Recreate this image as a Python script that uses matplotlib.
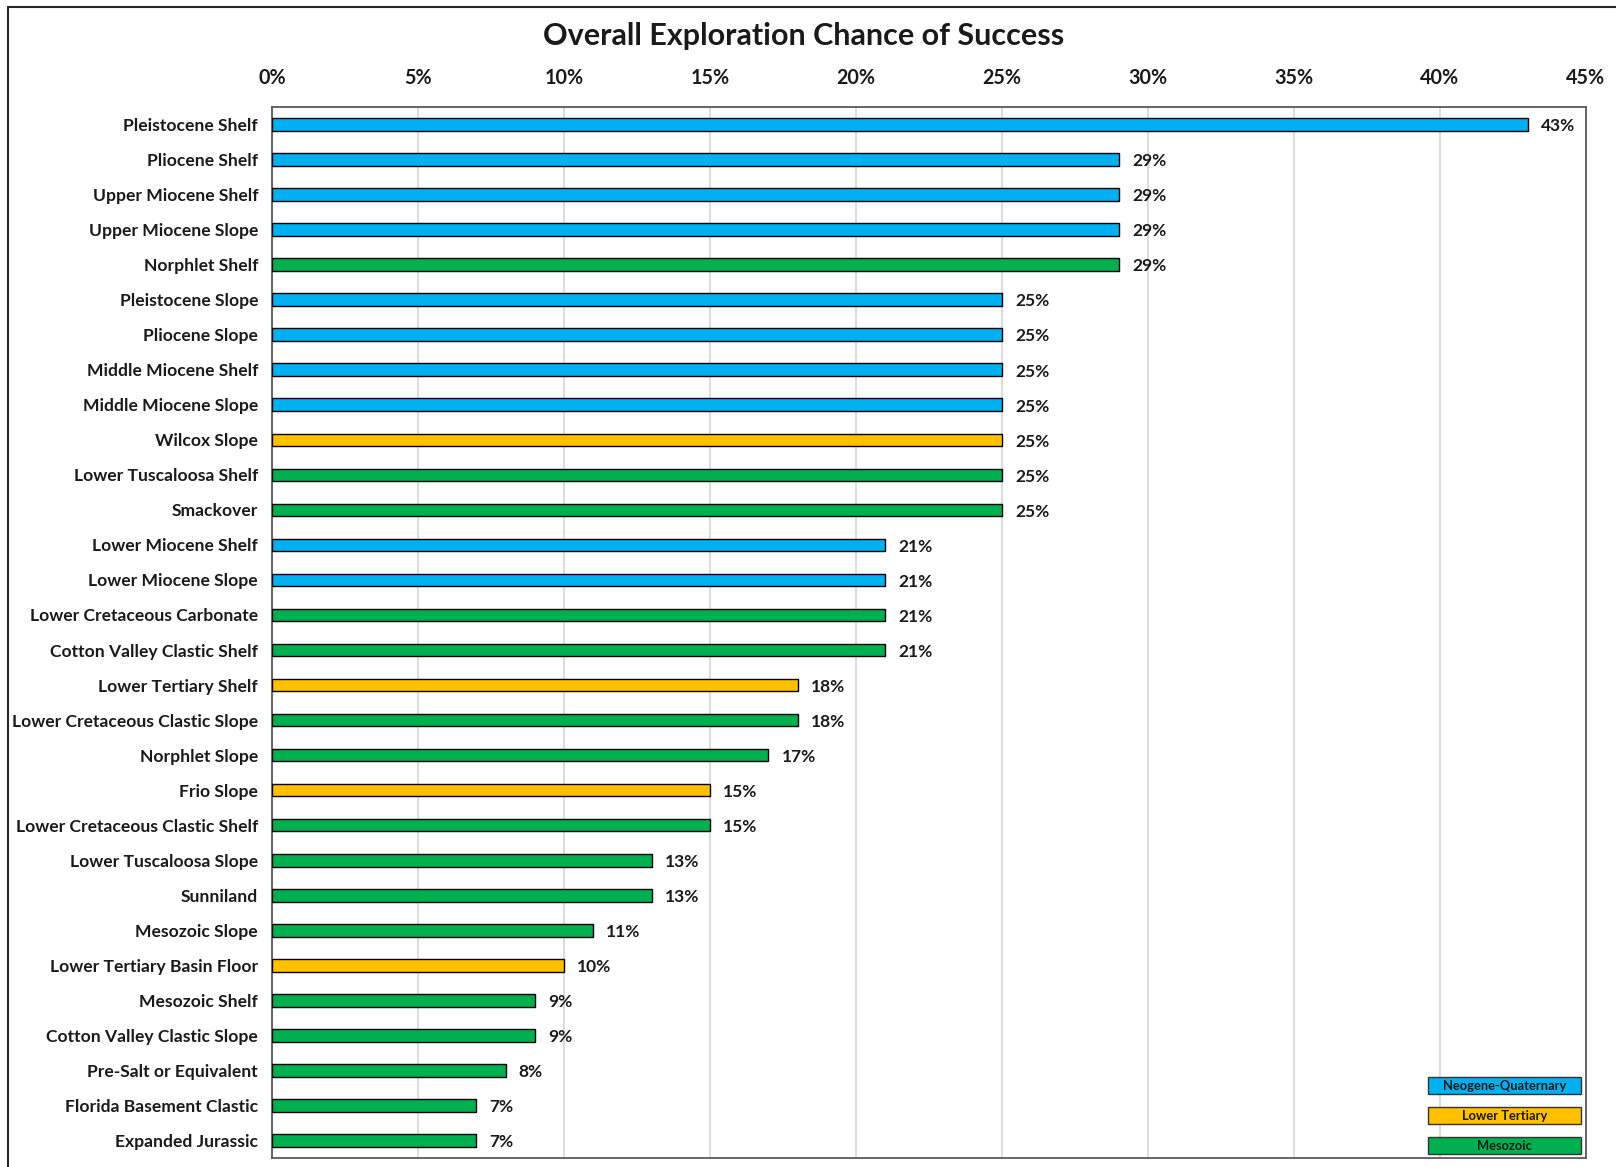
import matplotlib.pyplot as plt
from matplotlib.patches import Rectangle

plt.rcParams['font.family'] = ['Lato', 'DejaVu Sans']

plays = ["Pleistocene Shelf", "Pliocene Shelf", "Upper Miocene Shelf", "Upper Miocene Slope",
         "Norphlet Shelf", "Pleistocene Slope", "Pliocene Slope", "Middle Miocene Shelf",
         "Middle Miocene Slope", "Wilcox Slope", "Lower Tuscaloosa Shelf", "Smackover",
         "Lower Miocene Shelf", "Lower Miocene Slope", "Lower Cretaceous Carbonate",
         "Cotton Valley Clastic Shelf", "Lower Tertiary Shelf", "Lower Cretaceous Clastic Slope",
         "Norphlet Slope", "Frio Slope", "Lower Cretaceous Clastic Shelf", "Lower Tuscaloosa Slope",
         "Sunniland", "Mesozoic Slope", "Lower Tertiary Basin Floor", "Mesozoic Shelf",
         "Cotton Valley Clastic Slope", "Pre-Salt or Equivalent", "Florida Basement Clastic",
         "Expanded Jurassic"]
cos = [43, 29, 29, 29, 29, 25, 25, 25, 25, 25, 25, 25, 21, 21, 21, 21, 18, 18, 17, 15,
       15, 13, 13, 11, 10, 9, 9, 8, 7, 7]
groups = ["N", "N", "N", "N", "M", "N", "N", "N", "N", "L", "M", "M", "N", "N", "M", "M",
          "L", "M", "M", "L", "M", "M", "M", "M", "L", "M", "M", "M", "M", "M"]
group_names = ["Neogene-Quaternary", "Lower Tertiary", "Mesozoic"]
ticks = [0, 5, 10, 15, 20, 25, 30, 35, 40, 45]

colors = {"N": "#00B0F0", "L": "#FFC000", "M": "#00B050"}
legend_colors = ["#00B0F0", "#FFC000", "#00B050"]

W, H = 1616, 1167
fig = plt.figure(figsize=(W / 100, H / 100), dpi=100)
# outer chart frame
fig.patches.append(Rectangle((8 / W, -0.05), 1.2, 1 - 7 / H + 0.05, transform=fig.transFigure,
                             fill=False, edgecolor='#262626', linewidth=1.5))

ax = fig.add_axes([272 / W, 1 - 1158 / H, (1586 - 272) / W, (1158 - 107) / H])
ypos = list(range(len(plays)))
ax.barh(ypos, cos, height=0.36, color=[colors[g] for g in groups],
        edgecolor='black', linewidth=1.0, zorder=3)
for y, v in zip(ypos, cos):
    ax.text(v + 0.45, y + 0.05, f"{v}%", va='center', ha='left', fontsize=12.5,
            fontweight='bold', color='#1a1a1a')

ax.set_ylim(len(plays) - 0.5, -0.5)
ax.set_xlim(0, 45)
ax.set_yticks(ypos)
ax.set_yticklabels(plays, fontsize=12.6, fontweight='bold', color='#1a1a1a')
ax.set_xticks(ticks)
ax.set_xticklabels([f"{t}%" for t in ticks], fontsize=14.2, fontweight='bold', color='#1a1a1a')
ax.xaxis.tick_top()
ax.tick_params(axis='both', length=0)
ax.tick_params(axis='y', pad=10)
ax.tick_params(axis='x', pad=14)
ax.grid(axis='x', color='#D9D9D9', linewidth=1.3, zorder=0)
ax.set_axisbelow(True)
for s in ax.spines.values():
    s.set_color('#595959')
    s.set_linewidth(1.3)

fig.text(804 / W, 1 - 36 / H, "Overall Exploration Chance of Success", ha='center', va='center',
         fontsize=22, fontweight='bold', color='#1a1a1a')

# legend boxes
box_tops = [1077, 1107, 1137]
for name, c, top in zip(group_names, legend_colors, box_tops):
    fig.patches.append(Rectangle((1428 / W, 1 - (top + 17) / H), 153 / W, 17 / H,
                                 transform=fig.transFigure, facecolor=c,
                                 edgecolor='#333333', linewidth=1.0))
    fig.text((1428 + 76.5) / W, 1 - (top + 9.5) / H, name, ha='center', va='center',
             fontsize=9.3, fontweight='bold', color='#1a1a1a')

fig.savefig("out.png", dpi=100)
